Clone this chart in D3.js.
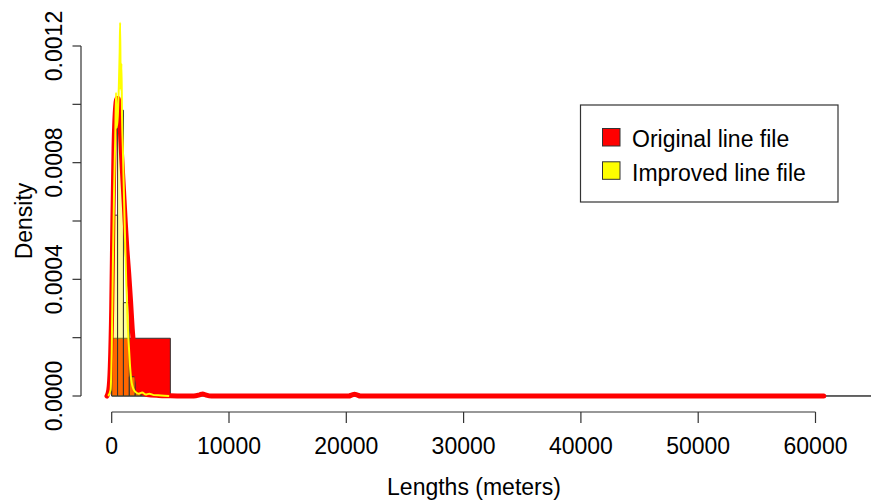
<!DOCTYPE html>
<html>
<head>
<meta charset="utf-8">
<script src="https://cdn.jsdelivr.net/npm/d3@7"></script>
<style>
  html, body { margin: 0; padding: 0; background: #fff; }
  svg { display: block; font-family: "Liberation Sans", Arial, Helvetica, sans-serif; }
</style>
</head>
<body>
<svg id="chart" width="871" height="504"></svg>
<script>
// Histogram of the original line lengths (density scale, 5000 m bins)
const originalBreaks = [0, 5000, 10000, 15000, 20000, 25000, 30000, 35000, 40000, 45000, 50000, 55000, 60000, 65000];
const originalHist = [0.000198, 0.0000012, 0.0000002, 0, 0.0000002, 0, 0, 0, 0, 0, 0, 0, 0.0000002];

// Histogram of the improved line lengths (density scale, 500 m bins)
const improvedBreaks = [0, 500, 1000, 1500, 2000, 2500, 3000, 3500, 4000, 4500, 5000];
const improvedHist = [0.00062, 0.00098, 0.00032, 0.000066, 0.000008, 0.000004, 0.000002, 0, 0, 0];

// Kernel density estimate of the original lengths
const originalDensityX = [-400, -250, -120, 0, 100, 200, 300, 450, 550, 700, 850, 1000, 1150, 1300, 1450, 1600, 1750, 1900, 2050, 2250, 2500, 3000, 4000, 5000, 7000, 7500, 7760, 8000, 8500, 20200, 20500, 20700, 20900, 21200, 60700];
const originalDensityY = [0, 0.00002, 0.0001, 0.0003, 0.0006, 0.00085, 0.00097, 0.00102, 0.00102, 0.00094, 0.00082, 0.00071, 0.0006, 0.0005, 0.00042, 0.00033, 0.00023, 0.00015, 0.00009, 0.00005, 0.00002, 0.000005, 0.000002, 0.000001, 0, 0.000004, 0.000007, 0.000004, 0, 0, 0.000004, 0.000006, 0.000004, 0, 0];

// Kernel density estimate of the improved lengths
const improvedDensityX = [-300, -100, 0, 100, 200, 300, 370, 430, 520, 600, 680, 720, 770, 830, 880, 950, 1050, 1150, 1250, 1350, 1450, 1550, 1650, 1800, 2000, 2300, 2600, 2900, 3200, 3600, 4200, 4900];
const improvedDensityY = [0, 0.00002, 0.00015, 0.00045, 0.0007, 0.00088, 0.00104, 0.00092, 0.00096, 0.00105, 0.00118, 0.00128, 0.00105, 0.00114, 0.00096, 0.00085, 0.00068, 0.00052, 0.00038, 0.00026, 0.00018, 0.00011, 0.00006, 0.00003, 0.000015, 0.000008, 0.000012, 0.000005, 0.000008, 0.000003, 0.000002, 0];

const xTicks = [0, 10000, 20000, 30000, 40000, 50000, 60000];
const yTicks = [0, 0.0002, 0.0004, 0.0006, 0.0008, 0.001, 0.0012];
const yTickLabels = ["0.0000", "", "0.0004", "", "0.0008", "", "0.0012"];

const legendLabels = ["Original line file", "Improved line file"];
const legendColors = ["#ff0000", "#ffff00"];

const svg = d3.select("#chart");
const x = d3.scaleLinear().domain([0, 60000]).range([111.7, 815.5]);
const y = d3.scaleLinear().domain([0, 0.0012]).range([396, 46]);
const axisColor = "#333";
const fontSize = 23;

// Bars drawn as closed paths so zero-height bins still show their outline
function barPath(x0, x1, h) {
  return `M${x(x0)},${y(0)}V${y(h)}H${x(x1)}V${y(0)}Z`;
}

const bars = svg.append("g");
bars.selectAll("path.orig")
  .data(originalHist)
  .join("path")
  .attr("class", "orig")
  .attr("d", (h, i) => barPath(originalBreaks[i], originalBreaks[i + 1], h))
  .attr("fill", "#ff0000")
  .attr("stroke", axisColor)
  .attr("stroke-width", 1);

bars.selectAll("path.impr")
  .data(improvedHist)
  .join("path")
  .attr("class", "impr")
  .attr("d", (h, i) => barPath(improvedBreaks[i], improvedBreaks[i + 1], h))
  .attr("fill", "rgba(255,255,0,0.4)")
  .attr("stroke", axisColor)
  .attr("stroke-width", 1);

// Density curves
const line = d3.line().x(d => x(d[0])).y(d => y(d[1])).curve(d3.curveMonotoneX);
svg.append("path")
  .datum(originalDensityX.map((v, i) => [v, originalDensityY[i]]))
  .attr("d", line)
  .attr("fill", "none")
  .attr("stroke", "#ff0000")
  .attr("stroke-width", 5)
  .attr("stroke-linejoin", "round")
  .attr("stroke-linecap", "round");

svg.append("path")
  .datum(improvedDensityX.map((v, i) => [v, improvedDensityY[i]]))
  .attr("d", line)
  .attr("fill", "none")
  .attr("stroke", "#ffff00")
  .attr("stroke-width", 2)
  .attr("stroke-linejoin", "round");

// X axis
const xAxis = svg.append("g").attr("transform", "translate(0,412)");
xAxis.append("line")
  .attr("x1", x(0)).attr("x2", x(60000))
  .attr("stroke", axisColor).attr("stroke-width", 1.2);
xAxis.selectAll("line.tick")
  .data(xTicks).join("line").attr("class", "tick")
  .attr("x1", d => x(d)).attr("x2", d => x(d))
  .attr("y1", 0).attr("y2", 11)
  .attr("stroke", axisColor).attr("stroke-width", 1.2);
xAxis.selectAll("text")
  .data(xTicks).join("text")
  .attr("x", d => x(d)).attr("y", 41.5)
  .attr("text-anchor", "middle")
  .attr("font-size", fontSize)
  .text(d => String(d));

svg.append("text")
  .attr("x", 474).attr("y", 495)
  .attr("text-anchor", "middle")
  .attr("font-size", fontSize)
  .text("Lengths (meters)");

// Y axis
const yAxis = svg.append("g").attr("transform", "translate(81,0)");
yAxis.append("line")
  .attr("y1", y(0)).attr("y2", y(0.0012))
  .attr("stroke", axisColor).attr("stroke-width", 1.2);
yAxis.selectAll("line.tick")
  .data(yTicks).join("line").attr("class", "tick")
  .attr("x1", 0).attr("x2", -8.5)
  .attr("y1", d => y(d)).attr("y2", d => y(d))
  .attr("stroke", axisColor).attr("stroke-width", 1.2);
yAxis.selectAll("text")
  .data(yTicks).join("text")
  .attr("transform", d => `translate(-19.5,${y(d)}) rotate(-90)`)
  .attr("text-anchor", "middle")
  .attr("font-size", fontSize)
  .text((d, i) => yTickLabels[i]);

svg.append("text")
  .attr("transform", `translate(32,${(y(0) + y(0.0012)) / 2}) rotate(-90)`)
  .attr("text-anchor", "middle")
  .attr("font-size", fontSize)
  .text("Density");

// Legend
const legend = svg.append("g");
legend.append("rect")
  .attr("x", 580.5).attr("y", 105)
  .attr("width", 257.5).attr("height", 97)
  .attr("fill", "#fff")
  .attr("stroke", axisColor).attr("stroke-width", 1.2);
legendLabels.forEach((lab, i) => {
  legend.append("rect")
    .attr("x", 602.5).attr("y", 128.5 + i * 33.3)
    .attr("width", 17.5).attr("height", 17.5)
    .attr("fill", legendColors[i])
    .attr("stroke", axisColor).attr("stroke-width", 1);
  legend.append("text")
    .attr("x", 632).attr("y", 147.3 + i * 33.3)
    .attr("font-size", fontSize)
    .text(lab);
});
</script>
</body>
</html>
